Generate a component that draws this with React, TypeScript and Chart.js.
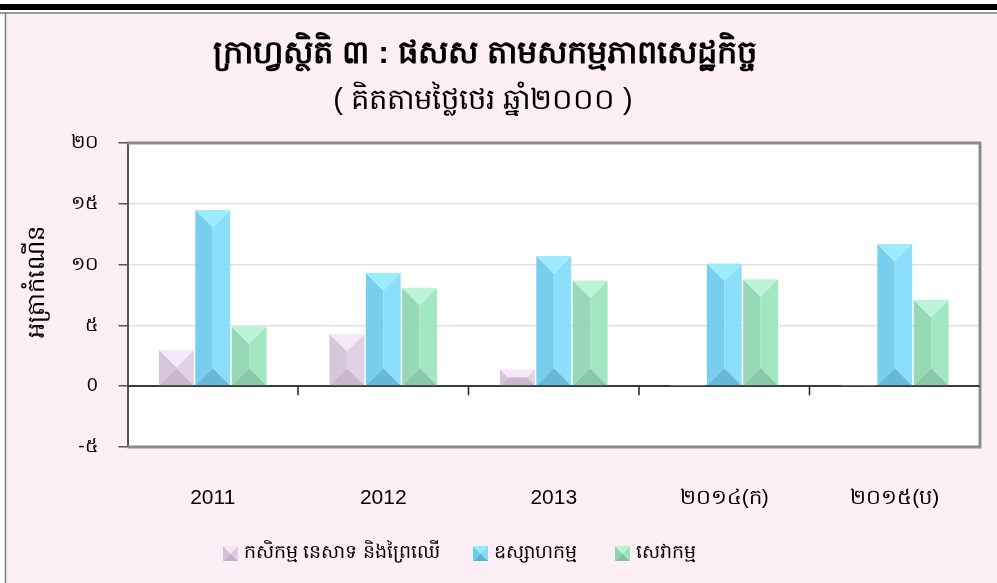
import React, { useEffect, useRef } from "react";
import { Chart, registerables } from "chart.js";

Chart.register(...registerables);

const categories = ["2011", "2012", "2013", "២០១៤(ក)", "២០១៥(ប)"];
const agriculture = [3.0, 4.3, 1.4, 0.1, 0.05];
const industry = [14.5, 9.3, 10.7, 10.1, 11.7];
const services = [4.9, 8.1, 8.7, 8.8, 7.1];
const seriesNames = ["កសិកម្ម នេសាទ និងព្រៃឈើ", "ឧស្សាហកម្ម", "សេវាកម្ម"];
const yTickLabels: Record<string, string> = {
  "-5": "-៥",
  "0": "0",
  "5": "៥",
  "10": "១០",
  "15": "១៥",
  "20": "២០",
};
const titleText = "ក្រាហ្វស្ថិតិ ៣ : ផសស តាមសកម្មភាពសេដ្ឋកិច្ច";
const subtitleText = "( គិតតាមថ្លៃថេរ ឆ្នាំ២០០០ )";
const yAxisTitle = "អត្រាកំណើន";

type Palette = { top: string; left: string; right: string; bottom: string };
const palettes: Palette[] = [
  { top: "#f4e6f7", left: "#d3c1d7", right: "#ddcde2", bottom: "#c5b1c9" },
  { top: "#92ecfd", left: "#6ccaeb", right: "#82dcfa", bottom: "#5bb3d4" },
  { top: "#b5f3d3", left: "#8ed6b0", right: "#98e5bd", bottom: "#80c39f" },
];

const FONT = "'Liberation Sans', Arial, sans-serif";

function drawBevel(ctx: CanvasRenderingContext2D, l: number, t: number, r: number, b: number, p: Palette) {
  const w = r - l;
  const h = b - t;
  if (w <= 0 || h <= 0) return;
  const d = Math.min(w / 2, h / 2);
  const poly = (pts: number[][], c: string) => {
    ctx.beginPath();
    ctx.moveTo(pts[0][0], pts[0][1]);
    for (let i = 1; i < pts.length; i++) ctx.lineTo(pts[i][0], pts[i][1]);
    ctx.closePath();
    ctx.fillStyle = c;
    ctx.fill();
  };
  poly([[l, t], [l + d, t + d], [l + d, b - d], [l, b]], p.left);
  poly([[r, t], [r - d, t + d], [r - d, b - d], [r, b]], p.right);
  if (w - 2 * d > 0.1 && h - 2 * d > 0.1) {
    ctx.fillStyle = p.right;
    ctx.fillRect(l + d, t + d, w - 2 * d, h - 2 * d);
  }
  poly([[l, t], [r, t], [r - d, t + d], [l + d, t + d]], p.top);
  poly([[l, b], [r, b], [r - d, b - d], [l + d, b - d]], p.bottom);
}

const legendBoxX = [223, 473, 615];

const framePlugin = {
  id: "framePlugin",
  beforeDraw(chart: any) {
    const { ctx, chartArea: a, width, height } = chart;
    ctx.save();
    ctx.fillStyle = "#ffffff";
    ctx.fillRect(0, 0, width, height);
    ctx.fillStyle = "#000000";
    ctx.fillRect(0, 4, width, 6);
    ctx.fillStyle = "#fdeff6";
    ctx.fillRect(5, 13, width - 5, height - 13);
    ctx.strokeStyle = "#7a7a7a";
    ctx.lineWidth = 1.5;
    ctx.beginPath();
    ctx.moveTo(0, 13);
    ctx.lineTo(width, 13);
    ctx.moveTo(5.5, 13);
    ctx.lineTo(5.5, height);
    ctx.stroke();
    ctx.fillStyle = "#ffffff";
    ctx.fillRect(a.left, a.top, a.right - a.left, a.bottom - a.top);
    // titles
    ctx.fillStyle = "#000000";
    ctx.textAlign = "center";
    ctx.textBaseline = "middle";
    ctx.font = `bold 32px ${FONT}`;
    ctx.fillText(titleText, 485, 54);
    ctx.font = `29px ${FONT}`;
    ctx.fillText(subtitleText, 483, 101);
    // y axis title
    ctx.save();
    ctx.translate(37, 282);
    ctx.rotate(-Math.PI / 2);
    ctx.font = `24px ${FONT}`;
    ctx.fillText(yAxisTitle, 0, 0);
    ctx.restore();
    // legend
    ctx.textAlign = "left";
    ctx.font = `19px ${FONT}`;
    const ly = 553;
    seriesNames.forEach((name, i) => {
      const bx = legendBoxX[i];
      drawBevel(ctx, bx, ly - 7, bx + 15, ly + 8, palettes[i]);
      ctx.fillStyle = "#000";
      ctx.fillText(name, bx + 21, ly);
    });
    ctx.restore();
  },
  beforeDatasetsDraw(chart: any) {
    const { ctx, chartArea: a, scales } = chart;
    const y0 = scales.y.getPixelForValue(0);
    ctx.save();
    ctx.strokeStyle = "#8c8c8c";
    ctx.lineWidth = 3;
    ctx.beginPath();
    ctx.moveTo(a.left, a.top);
    ctx.lineTo(a.right, a.top);
    ctx.lineTo(a.right, a.bottom);
    ctx.lineTo(a.left, a.bottom);
    ctx.stroke();
    ctx.strokeStyle = "#222";
    ctx.lineWidth = 1.5;
    ctx.beginPath();
    for (let i = 0; i < categories.length - 1; i++) {
      const x = (scales.x.getPixelForValue(i) + scales.x.getPixelForValue(i + 1)) / 2;
      ctx.moveTo(x, y0);
      ctx.lineTo(x, y0 + 9);
    }
    ctx.stroke();
    ctx.restore();
  },
  afterDatasetsDraw(chart: any) {
    const { ctx } = chart;
    ctx.save();
    ctx.globalAlpha = 0.92;
    chart.data.datasets.forEach((_: any, di: number) => {
      const meta = chart.getDatasetMeta(di);
      meta.data.forEach((el: any) => {
        const l = el.x - el.width / 2;
        const r = el.x + el.width / 2;
        const t = Math.min(el.y, el.base);
        const b = Math.max(el.y, el.base);
        drawBevel(ctx, l, t, r, Math.max(b, t + 1), palettes[di]);
      });
    });
    ctx.restore();
    const y0 = chart.scales.y.getPixelForValue(0);
    const a = chart.chartArea;
    ctx.save();
    ctx.strokeStyle = "rgba(40,40,40,0.85)";
    ctx.lineWidth = 1.5;
    ctx.beginPath();
    ctx.moveTo(a.left, y0);
    ctx.lineTo(a.right, y0);
    ctx.stroke();
    ctx.restore();
  },
};

export default function App() {
  const ref = useRef<HTMLCanvasElement | null>(null);
  useEffect(() => {
    if (!ref.current) return;
    const seriesData = [agriculture, industry, services];
    const chart = new Chart(ref.current, {
      type: "bar",
      data: {
        labels: categories,
        datasets: seriesData.map((d, i) => ({
          label: seriesNames[i],
          data: d,
          backgroundColor: "rgba(0,0,0,0)",
          borderWidth: 0,
          categoryPercentage: 0.64,
          barPercentage: 0.96,
        })),
      },
      options: {
        responsive: false,
        animation: false,
        layout: { padding: { left: 10, right: 17, top: 143, bottom: 10 } },
        plugins: {
          title: { display: false },
          tooltip: { enabled: false },
          legend: { display: false },
        },
        scales: {
          x: {
            grid: { display: false },
            border: { display: false },
            ticks: { color: "#000", font: { family: FONT, size: 21 }, padding: 31, maxRotation: 0 },
            afterFit: (s: any) => {
              s.height = 126;
            },
          },
          y: {
            min: -5,
            max: 20,
            afterFit: (s: any) => {
              s.width = 117.5;
            },
            ticks: {
              stepSize: 5,
              color: "#000",
              font: { family: FONT, size: 19 },
              padding: 21,
              callback: (v: any) => yTickLabels[String(v)] ?? String(v),
            },
            grid: {
              color: (c: any) => {
                const v = c.tick?.value;
                if (v === 0) return "#444";
                if (v === -5 || v === 20) return "rgba(0,0,0,0)";
                return "#e2e2e2";
              },
              lineWidth: 1.5,
              tickColor: "#555",
              tickLength: 9,
            },
            border: { display: true, color: "#555", width: 2 },
          },
        },
      },
      plugins: [framePlugin],
    });
    return () => chart.destroy();
  }, []);
  return (
    <div style={{ position: "fixed", left: 0, top: 0, width: 997, height: 583 }}>
      <canvas ref={ref} width={997} height={583} style={{ width: 997, height: 583, display: "block" }} />
    </div>
  );
}
